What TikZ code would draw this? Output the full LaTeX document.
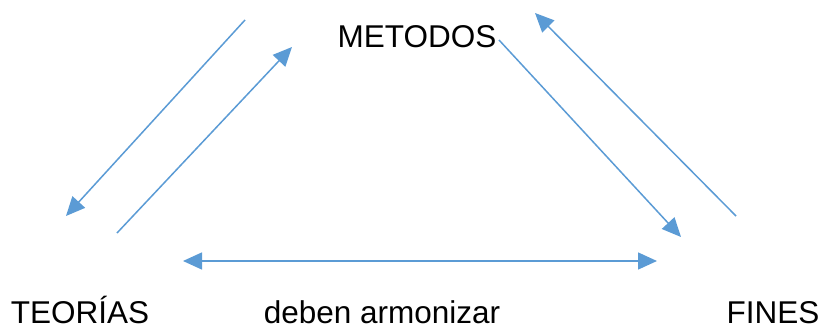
\documentclass[tikz,border=0pt]{standalone}
\usepackage{fontspec}
\setmainfont{Liberation Sans}
\usetikzlibrary{arrows.meta}
\definecolor{arrowblue}{RGB}{91,155,213}
\tikzset{
  x=1pt, y=-1pt,
  label text/.style={font=\fontsize{31.5}{36}\selectfont, inner sep=0pt, anchor=base},
  link/.style={draw=arrowblue, line width=1.5pt, -{Triangle[length=19pt,width=17pt]}},
  twoway/.style={draw=arrowblue, line width=1.5pt, {Triangle[length=19pt,width=17pt]}-{Triangle[length=19pt,width=17pt]}}
}
\begin{document}
\begin{tikzpicture}
  \useasboundingbox (0,0) rectangle (822,329);
  % labels
  \node[label text] (metodos) at (417,48) {METODOS};
  \node[label text] (teorias) at (80,323) {TEORÍAS};
  \node[label text] (armonizar) at (382,323) {deben armonizar};
  \node[label text] (fines) at (773,323) {FINES};
  % arrow end points
  \coordinate (a1s) at (245,20);  \coordinate (a1e) at (66,216);
  \coordinate (a2s) at (117,233); \coordinate (a2e) at (292,47);
  \coordinate (a3s) at (499,40);  \coordinate (a3e) at (681,237);
  \coordinate (a4s) at (736,216); \coordinate (a4e) at (535,13);
  \coordinate (h1) at (183,261);  \coordinate (h2) at (657,261);
  % arrows
  \draw[link] (a1s) -- (a1e);
  \draw[link] (a2s) -- (a2e);
  \draw[link] (a3s) -- (a3e);
  \draw[link] (a4s) -- (a4e);
  \draw[twoway] (h1) -- (h2);
\end{tikzpicture}
\end{document}
